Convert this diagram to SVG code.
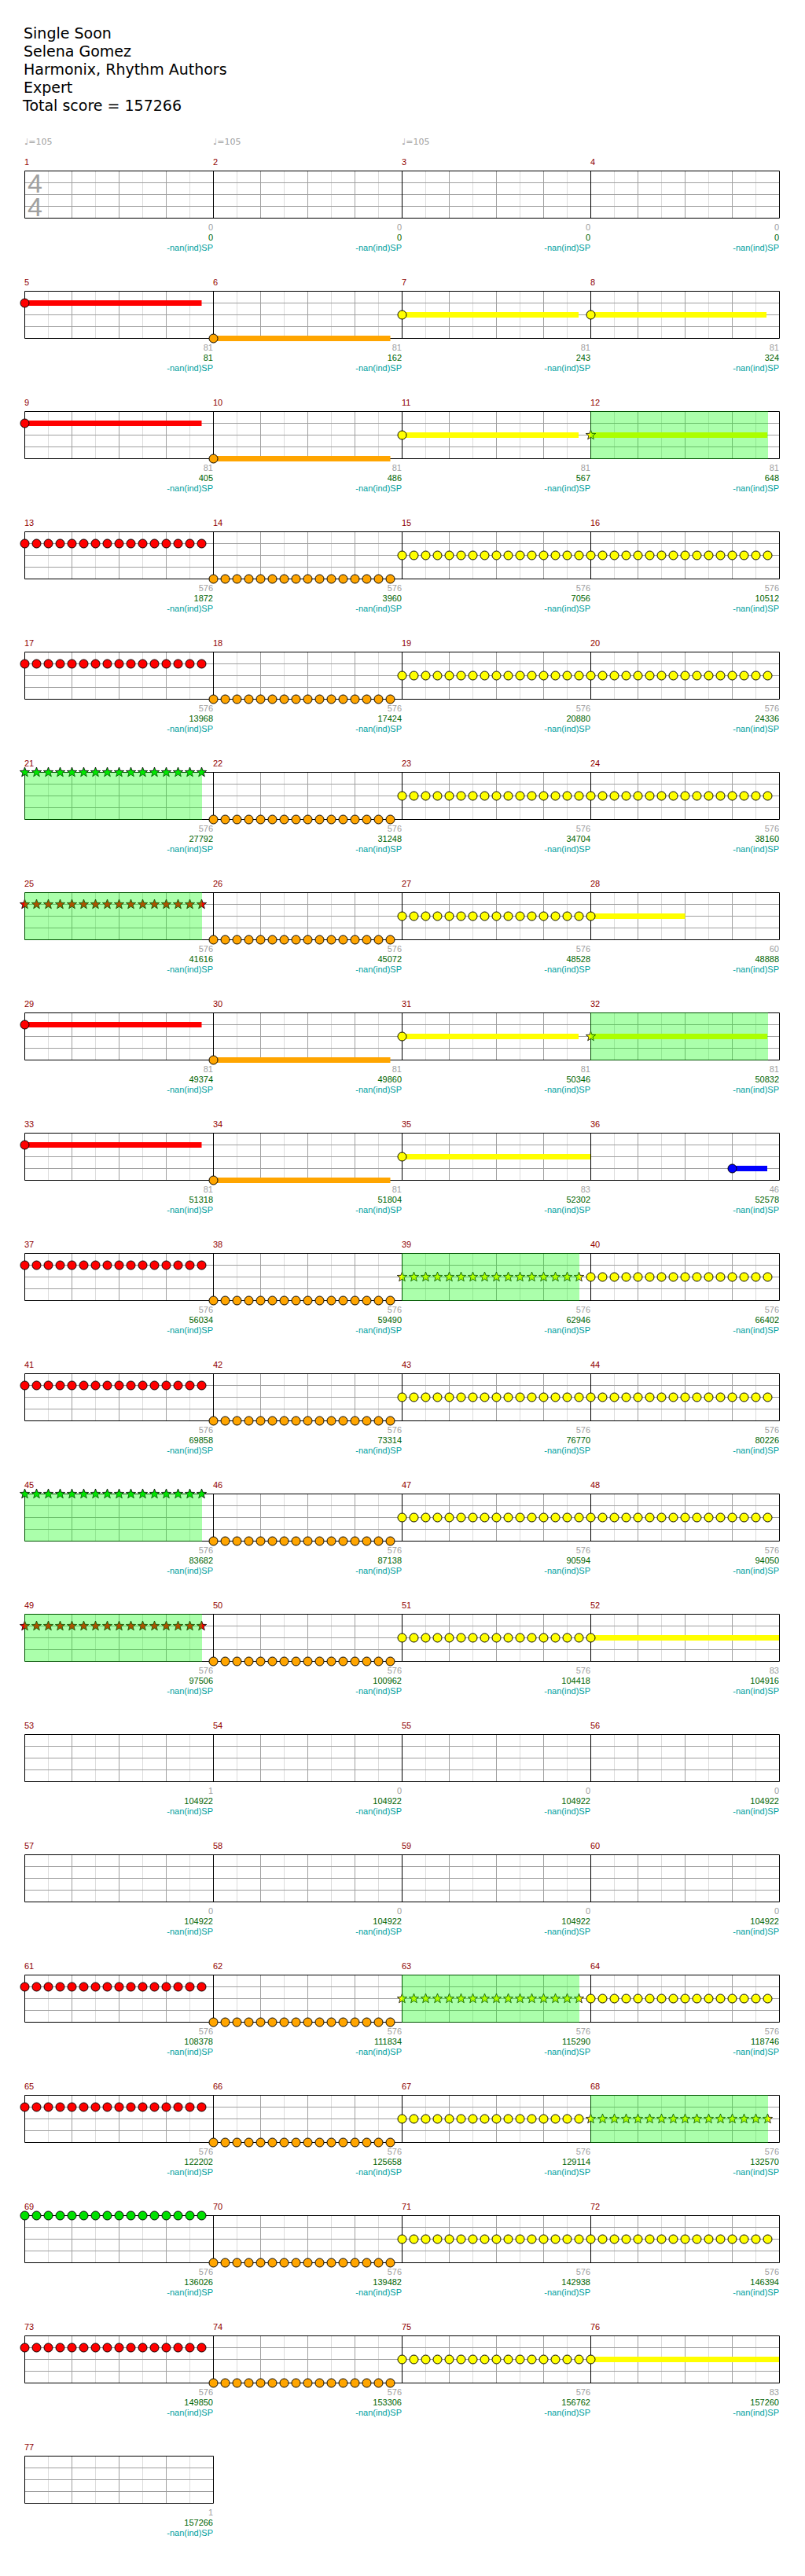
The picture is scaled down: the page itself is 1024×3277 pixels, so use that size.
<svg xmlns="http://www.w3.org/2000/svg" width="1024" height="3277" viewBox="0 0 1024 3277">
<style>
.hd{font-family:"DejaVu Sans",sans-serif;font-size:19px;fill:#000}
.tp{font-family:"DejaVu Sans",sans-serif;font-size:11px;fill:#a0a0a0}
.ts{font-family:"Liberation Sans",Arial,sans-serif;font-size:34px;fill:#a0a0a0}
.mn{font-family:"Liberation Sans",Arial,sans-serif;font-size:11px;fill:#900000}
.lb{font-family:"Liberation Sans",Arial,sans-serif;font-size:11px;text-anchor:end}
.lg{fill:#a0a0a0}.ls{fill:#006400}.lt{fill:#00a0a0}
.n{stroke:#000;stroke-width:1}
.su{stroke-width:7}
.R{fill:#ff0000}.O{fill:#ffa500}.Y{fill:#ffff00}.B{fill:#0000ff}.G{fill:#00e000}
.sR{stroke:#ff0000}.sO{stroke:#ffa500}.sY{stroke:#ffff00}.sB{stroke:#0000ff}
.spz{fill:#00ff00;fill-opacity:.33}
</style>
<defs>
<g id="g4" fill="none">
<path stroke="#dcdcdc" d="M30.5 0v60M90.5 0v60M150.5 0v60M210.5 0v60M270.5 0v60M330.5 0v60M390.5 0v60M450.5 0v60M510.5 0v60M570.5 0v60M630.5 0v60M690.5 0v60M750.5 0v60M810.5 0v60M870.5 0v60M930.5 0v60"/>
<path stroke="#a0a0a0" d="M60.5 0v60M120.5 0v60M180.5 0v60M300.5 0v60M360.5 0v60M420.5 0v60M540.5 0v60M600.5 0v60M660.5 0v60M780.5 0v60M840.5 0v60M900.5 0v60M0 15.5h960M0 30.5h960M0 45.5h960"/>
<path stroke="#000" d="M240.5 0v60M480.5 0v60M720.5 0v60M0.5 0.5h960v60h-960z"/>
</g>
<g id="g1" fill="none">
<path stroke="#dcdcdc" d="M30.5 0v60M90.5 0v60M150.5 0v60M210.5 0v60"/>
<path stroke="#a0a0a0" d="M60.5 0v60M120.5 0v60M180.5 0v60M0 15.5h240M0 30.5h240M0 45.5h240"/>
<path stroke="#000" d="M0.5 0.5h240v60h-240z"/>
</g>
<g id="c16" stroke="#000">
<circle cx="0" r="5.5"/><circle cx="15" r="5.5"/><circle cx="30" r="5.5"/><circle cx="45" r="5.5"/><circle cx="60" r="5.5"/><circle cx="75" r="5.5"/><circle cx="90" r="5.5"/><circle cx="105" r="5.5"/><circle cx="120" r="5.5"/><circle cx="135" r="5.5"/><circle cx="150" r="5.5"/><circle cx="165" r="5.5"/><circle cx="180" r="5.5"/><circle cx="195" r="5.5"/><circle cx="210" r="5.5"/><circle cx="225" r="5.5"/>
</g>
<path id="st" stroke="#000" stroke-width=".8" d="M0-6.5L1.59-2.18 6.18-2.01 2.57.83 3.82 5.26 0 2.7-3.82 5.26-2.57.83-6.18-2.01-1.59-2.18Z"/>
<g id="s16">
<use href="#st"/><use href="#st" x="15"/><use href="#st" x="30"/><use href="#st" x="45"/><use href="#st" x="60"/><use href="#st" x="75"/><use href="#st" x="90"/><use href="#st" x="105"/><use href="#st" x="120"/><use href="#st" x="135"/><use href="#st" x="150"/><use href="#st" x="165"/><use href="#st" x="180"/><use href="#st" x="195"/><use href="#st" x="210"/><use href="#st" x="225"/>
</g>
</defs>
<rect width="1024" height="3277" fill="#fff"/>
<g id="header" class="hd">
<text x="30" y="49">Single Soon</text>
<text x="30" y="72">Selena Gomez</text>
<text x="30" y="95">Harmonix, Rhythm Authors</text>
<text x="30" y="118">Expert</text>
<text x="29" y="141">Total score = 157266</text>
</g>

<g id="row1" transform="translate(0,217)">
<use href="#g4" x="31"/>
<text class="ts"><tspan x="35" y="28">4</tspan><tspan x="35" y="58">4</tspan></text>
<g class="tp"><text x="31" y="-33">♩=105</text><text x="271" y="-33">♩=105</text><text x="511" y="-33">♩=105</text></g>
<g class="mn"><text x="31" y="-7">1</text><text x="271" y="-7">2</text><text x="511" y="-7">3</text><text x="751" y="-7">4</text></g>
<g class="lb">
<text x="271" y="76" class="lg">0</text><text x="271" y="89" class="ls">0</text><text x="271" y="102" class="lt">-nan(ind)SP</text>
<text x="511" y="76" class="lg">0</text><text x="511" y="89" class="ls">0</text><text x="511" y="102" class="lt">-nan(ind)SP</text>
<text x="751" y="76" class="lg">0</text><text x="751" y="89" class="ls">0</text><text x="751" y="102" class="lt">-nan(ind)SP</text>
<text x="991" y="76" class="lg">0</text><text x="991" y="89" class="ls">0</text><text x="991" y="102" class="lt">-nan(ind)SP</text>
</g>
</g>

<g id="row2" transform="translate(0,370)">
<use href="#g4" x="31"/>
<g class="mn"><text x="31" y="-7">5</text><text x="271" y="-7">6</text><text x="511" y="-7">7</text><text x="751" y="-7">8</text></g>
<g id="m5"><line class="su sR" x1="31.5" y1="15.5" x2="256.5" y2="15.5"/><circle class="n R" cx="31.5" cy="15.5" r="5.5"/></g>
<g id="m6"><line class="su sO" x1="271.5" y1="60.5" x2="496.5" y2="60.5"/><circle class="n O" cx="271.5" cy="60.5" r="5.5"/></g>
<g id="m7"><line class="su sY" x1="511.5" y1="30.5" x2="736" y2="30.5"/><circle class="n Y" cx="511.5" cy="30.5" r="5.5"/></g>
<g id="m8"><line class="su sY" x1="751.5" y1="30.5" x2="975" y2="30.5"/><circle class="n Y" cx="751.5" cy="30.5" r="5.5"/></g>
<g class="lb">
<text x="271" y="76" class="lg">81</text><text x="271" y="89" class="ls">81</text><text x="271" y="102" class="lt">-nan(ind)SP</text>
<text x="511" y="76" class="lg">81</text><text x="511" y="89" class="ls">162</text><text x="511" y="102" class="lt">-nan(ind)SP</text>
<text x="751" y="76" class="lg">81</text><text x="751" y="89" class="ls">243</text><text x="751" y="102" class="lt">-nan(ind)SP</text>
<text x="991" y="76" class="lg">81</text><text x="991" y="89" class="ls">324</text><text x="991" y="102" class="lt">-nan(ind)SP</text>
</g>
</g>

<g id="row3" transform="translate(0,523)">
<use href="#g4" x="31"/>
<g class="mn"><text x="31" y="-7">9</text><text x="271" y="-7">10</text><text x="511" y="-7">11</text><text x="751" y="-7">12</text></g>
<g id="m9"><line class="su sR" x1="31.5" y1="15.5" x2="256.5" y2="15.5"/><circle class="n R" cx="31.5" cy="15.5" r="5.5"/></g>
<g id="m10"><line class="su sO" x1="271.5" y1="60.5" x2="496.5" y2="60.5"/><circle class="n O" cx="271.5" cy="60.5" r="5.5"/></g>
<g id="m11"><line class="su sY" x1="511.5" y1="30.5" x2="736" y2="30.5"/><circle class="n Y" cx="511.5" cy="30.5" r="5.5"/></g>
<g id="m12"><line class="su sY" x1="751.5" y1="30.5" x2="976" y2="30.5"/><use href="#st" class="Y" x="751.5" y="30.5"/><rect class="spz" x="751" y="0" width="226" height="61"/></g>
<g class="lb">
<text x="271" y="76" class="lg">81</text><text x="271" y="89" class="ls">405</text><text x="271" y="102" class="lt">-nan(ind)SP</text>
<text x="511" y="76" class="lg">81</text><text x="511" y="89" class="ls">486</text><text x="511" y="102" class="lt">-nan(ind)SP</text>
<text x="751" y="76" class="lg">81</text><text x="751" y="89" class="ls">567</text><text x="751" y="102" class="lt">-nan(ind)SP</text>
<text x="991" y="76" class="lg">81</text><text x="991" y="89" class="ls">648</text><text x="991" y="102" class="lt">-nan(ind)SP</text>
</g>
</g>

<g id="row4" transform="translate(0,676)">
<use href="#g4" x="31"/>
<g class="mn"><text x="31" y="-7">13</text><text x="271" y="-7">14</text><text x="511" y="-7">15</text><text x="751" y="-7">16</text></g>
<g id="m13"><use href="#c16" class="R" x="31.5" y="15.5"/></g>
<g id="m14"><use href="#c16" class="O" x="271.5" y="60.5"/></g>
<g id="m15"><use href="#c16" class="Y" x="511.5" y="30.5"/></g>
<g id="m16"><use href="#c16" class="Y" x="751.5" y="30.5"/></g>
<g class="lb">
<text x="271" y="76" class="lg">576</text><text x="271" y="89" class="ls">1872</text><text x="271" y="102" class="lt">-nan(ind)SP</text>
<text x="511" y="76" class="lg">576</text><text x="511" y="89" class="ls">3960</text><text x="511" y="102" class="lt">-nan(ind)SP</text>
<text x="751" y="76" class="lg">576</text><text x="751" y="89" class="ls">7056</text><text x="751" y="102" class="lt">-nan(ind)SP</text>
<text x="991" y="76" class="lg">576</text><text x="991" y="89" class="ls">10512</text><text x="991" y="102" class="lt">-nan(ind)SP</text>
</g>
</g>

<g id="row5" transform="translate(0,829)">
<use href="#g4" x="31"/>
<g class="mn"><text x="31" y="-7">17</text><text x="271" y="-7">18</text><text x="511" y="-7">19</text><text x="751" y="-7">20</text></g>
<g id="m17"><use href="#c16" class="R" x="31.5" y="15.5"/></g>
<g id="m18"><use href="#c16" class="O" x="271.5" y="60.5"/></g>
<g id="m19"><use href="#c16" class="Y" x="511.5" y="30.5"/></g>
<g id="m20"><use href="#c16" class="Y" x="751.5" y="30.5"/></g>
<g class="lb">
<text x="271" y="76" class="lg">576</text><text x="271" y="89" class="ls">13968</text><text x="271" y="102" class="lt">-nan(ind)SP</text>
<text x="511" y="76" class="lg">576</text><text x="511" y="89" class="ls">17424</text><text x="511" y="102" class="lt">-nan(ind)SP</text>
<text x="751" y="76" class="lg">576</text><text x="751" y="89" class="ls">20880</text><text x="751" y="102" class="lt">-nan(ind)SP</text>
<text x="991" y="76" class="lg">576</text><text x="991" y="89" class="ls">24336</text><text x="991" y="102" class="lt">-nan(ind)SP</text>
</g>
</g>

<g id="row6" transform="translate(0,982)">
<use href="#g4" x="31"/>
<g class="mn"><text x="31" y="-7">21</text><text x="271" y="-7">22</text><text x="511" y="-7">23</text><text x="751" y="-7">24</text></g>
<g id="m21"><use href="#s16" class="G" x="31.5" y="0.5"/><rect class="spz" x="31" y="0" width="226" height="61"/></g>
<g id="m22"><use href="#c16" class="O" x="271.5" y="60.5"/></g>
<g id="m23"><use href="#c16" class="Y" x="511.5" y="30.5"/></g>
<g id="m24"><use href="#c16" class="Y" x="751.5" y="30.5"/></g>
<g class="lb">
<text x="271" y="76" class="lg">576</text><text x="271" y="89" class="ls">27792</text><text x="271" y="102" class="lt">-nan(ind)SP</text>
<text x="511" y="76" class="lg">576</text><text x="511" y="89" class="ls">31248</text><text x="511" y="102" class="lt">-nan(ind)SP</text>
<text x="751" y="76" class="lg">576</text><text x="751" y="89" class="ls">34704</text><text x="751" y="102" class="lt">-nan(ind)SP</text>
<text x="991" y="76" class="lg">576</text><text x="991" y="89" class="ls">38160</text><text x="991" y="102" class="lt">-nan(ind)SP</text>
</g>
</g>

<g id="row7" transform="translate(0,1135)">
<use href="#g4" x="31"/>
<g class="mn"><text x="31" y="-7">25</text><text x="271" y="-7">26</text><text x="511" y="-7">27</text><text x="751" y="-7">28</text></g>
<g id="m25"><use href="#s16" class="R" x="31.5" y="15.5"/><rect class="spz" x="31" y="0" width="226" height="61"/></g>
<g id="m26"><use href="#c16" class="O" x="271.5" y="60.5"/></g>
<g id="m27"><use href="#c16" class="Y" x="511.5" y="30.5"/></g>
<g id="m28"><line class="su sY" x1="751.5" y1="30.5" x2="871.5" y2="30.5"/><circle class="n Y" cx="751.5" cy="30.5" r="5.5"/></g>
<g class="lb">
<text x="271" y="76" class="lg">576</text><text x="271" y="89" class="ls">41616</text><text x="271" y="102" class="lt">-nan(ind)SP</text>
<text x="511" y="76" class="lg">576</text><text x="511" y="89" class="ls">45072</text><text x="511" y="102" class="lt">-nan(ind)SP</text>
<text x="751" y="76" class="lg">576</text><text x="751" y="89" class="ls">48528</text><text x="751" y="102" class="lt">-nan(ind)SP</text>
<text x="991" y="76" class="lg">60</text><text x="991" y="89" class="ls">48888</text><text x="991" y="102" class="lt">-nan(ind)SP</text>
</g>
</g>

<g id="row8" transform="translate(0,1288)">
<use href="#g4" x="31"/>
<g class="mn"><text x="31" y="-7">29</text><text x="271" y="-7">30</text><text x="511" y="-7">31</text><text x="751" y="-7">32</text></g>
<g id="m29"><line class="su sR" x1="31.5" y1="15.5" x2="256.5" y2="15.5"/><circle class="n R" cx="31.5" cy="15.5" r="5.5"/></g>
<g id="m30"><line class="su sO" x1="271.5" y1="60.5" x2="496.5" y2="60.5"/><circle class="n O" cx="271.5" cy="60.5" r="5.5"/></g>
<g id="m31"><line class="su sY" x1="511.5" y1="30.5" x2="736" y2="30.5"/><circle class="n Y" cx="511.5" cy="30.5" r="5.5"/></g>
<g id="m32"><line class="su sY" x1="751.5" y1="30.5" x2="976" y2="30.5"/><use href="#st" class="Y" x="751.5" y="30.5"/><rect class="spz" x="751" y="0" width="226" height="61"/></g>
<g class="lb">
<text x="271" y="76" class="lg">81</text><text x="271" y="89" class="ls">49374</text><text x="271" y="102" class="lt">-nan(ind)SP</text>
<text x="511" y="76" class="lg">81</text><text x="511" y="89" class="ls">49860</text><text x="511" y="102" class="lt">-nan(ind)SP</text>
<text x="751" y="76" class="lg">81</text><text x="751" y="89" class="ls">50346</text><text x="751" y="102" class="lt">-nan(ind)SP</text>
<text x="991" y="76" class="lg">81</text><text x="991" y="89" class="ls">50832</text><text x="991" y="102" class="lt">-nan(ind)SP</text>
</g>
</g>

<g id="row9" transform="translate(0,1441)">
<use href="#g4" x="31"/>
<g class="mn"><text x="31" y="-7">33</text><text x="271" y="-7">34</text><text x="511" y="-7">35</text><text x="751" y="-7">36</text></g>
<g id="m33"><line class="su sR" x1="31.5" y1="15.5" x2="256.5" y2="15.5"/><circle class="n R" cx="31.5" cy="15.5" r="5.5"/></g>
<g id="m34"><line class="su sO" x1="271.5" y1="60.5" x2="496.5" y2="60.5"/><circle class="n O" cx="271.5" cy="60.5" r="5.5"/></g>
<g id="m35"><line class="su sY" x1="511.5" y1="30.5" x2="751" y2="30.5"/><circle class="n Y" cx="511.5" cy="30.5" r="5.5"/></g>
<g id="m36"><line class="su sB" x1="931.5" y1="45.5" x2="976" y2="45.5"/><circle class="n B" cx="931.5" cy="45.5" r="5.5"/></g>
<g class="lb">
<text x="271" y="76" class="lg">81</text><text x="271" y="89" class="ls">51318</text><text x="271" y="102" class="lt">-nan(ind)SP</text>
<text x="511" y="76" class="lg">81</text><text x="511" y="89" class="ls">51804</text><text x="511" y="102" class="lt">-nan(ind)SP</text>
<text x="751" y="76" class="lg">83</text><text x="751" y="89" class="ls">52302</text><text x="751" y="102" class="lt">-nan(ind)SP</text>
<text x="991" y="76" class="lg">46</text><text x="991" y="89" class="ls">52578</text><text x="991" y="102" class="lt">-nan(ind)SP</text>
</g>
</g>

<g id="row10" transform="translate(0,1594)">
<use href="#g4" x="31"/>
<g class="mn"><text x="31" y="-7">37</text><text x="271" y="-7">38</text><text x="511" y="-7">39</text><text x="751" y="-7">40</text></g>
<g id="m37"><use href="#c16" class="R" x="31.5" y="15.5"/></g>
<g id="m38"><use href="#c16" class="O" x="271.5" y="60.5"/></g>
<g id="m39"><use href="#s16" class="Y" x="511.5" y="30.5"/><rect class="spz" x="511" y="0" width="226" height="61"/></g>
<g id="m40"><use href="#c16" class="Y" x="751.5" y="30.5"/></g>
<g class="lb">
<text x="271" y="76" class="lg">576</text><text x="271" y="89" class="ls">56034</text><text x="271" y="102" class="lt">-nan(ind)SP</text>
<text x="511" y="76" class="lg">576</text><text x="511" y="89" class="ls">59490</text><text x="511" y="102" class="lt">-nan(ind)SP</text>
<text x="751" y="76" class="lg">576</text><text x="751" y="89" class="ls">62946</text><text x="751" y="102" class="lt">-nan(ind)SP</text>
<text x="991" y="76" class="lg">576</text><text x="991" y="89" class="ls">66402</text><text x="991" y="102" class="lt">-nan(ind)SP</text>
</g>
</g>

<g id="row11" transform="translate(0,1747)">
<use href="#g4" x="31"/>
<g class="mn"><text x="31" y="-7">41</text><text x="271" y="-7">42</text><text x="511" y="-7">43</text><text x="751" y="-7">44</text></g>
<g id="m41"><use href="#c16" class="R" x="31.5" y="15.5"/></g>
<g id="m42"><use href="#c16" class="O" x="271.5" y="60.5"/></g>
<g id="m43"><use href="#c16" class="Y" x="511.5" y="30.5"/></g>
<g id="m44"><use href="#c16" class="Y" x="751.5" y="30.5"/></g>
<g class="lb">
<text x="271" y="76" class="lg">576</text><text x="271" y="89" class="ls">69858</text><text x="271" y="102" class="lt">-nan(ind)SP</text>
<text x="511" y="76" class="lg">576</text><text x="511" y="89" class="ls">73314</text><text x="511" y="102" class="lt">-nan(ind)SP</text>
<text x="751" y="76" class="lg">576</text><text x="751" y="89" class="ls">76770</text><text x="751" y="102" class="lt">-nan(ind)SP</text>
<text x="991" y="76" class="lg">576</text><text x="991" y="89" class="ls">80226</text><text x="991" y="102" class="lt">-nan(ind)SP</text>
</g>
</g>

<g id="row12" transform="translate(0,1900)">
<use href="#g4" x="31"/>
<g class="mn"><text x="31" y="-7">45</text><text x="271" y="-7">46</text><text x="511" y="-7">47</text><text x="751" y="-7">48</text></g>
<g id="m45"><use href="#s16" class="G" x="31.5" y="0.5"/><rect class="spz" x="31" y="0" width="226" height="61"/></g>
<g id="m46"><use href="#c16" class="O" x="271.5" y="60.5"/></g>
<g id="m47"><use href="#c16" class="Y" x="511.5" y="30.5"/></g>
<g id="m48"><use href="#c16" class="Y" x="751.5" y="30.5"/></g>
<g class="lb">
<text x="271" y="76" class="lg">576</text><text x="271" y="89" class="ls">83682</text><text x="271" y="102" class="lt">-nan(ind)SP</text>
<text x="511" y="76" class="lg">576</text><text x="511" y="89" class="ls">87138</text><text x="511" y="102" class="lt">-nan(ind)SP</text>
<text x="751" y="76" class="lg">576</text><text x="751" y="89" class="ls">90594</text><text x="751" y="102" class="lt">-nan(ind)SP</text>
<text x="991" y="76" class="lg">576</text><text x="991" y="89" class="ls">94050</text><text x="991" y="102" class="lt">-nan(ind)SP</text>
</g>
</g>

<g id="row13" transform="translate(0,2053)">
<use href="#g4" x="31"/>
<g class="mn"><text x="31" y="-7">49</text><text x="271" y="-7">50</text><text x="511" y="-7">51</text><text x="751" y="-7">52</text></g>
<g id="m49"><use href="#s16" class="R" x="31.5" y="15.5"/><rect class="spz" x="31" y="0" width="226" height="61"/></g>
<g id="m50"><use href="#c16" class="O" x="271.5" y="60.5"/></g>
<g id="m51"><use href="#c16" class="Y" x="511.5" y="30.5"/></g>
<g id="m52"><line class="su sY" x1="751.5" y1="30.5" x2="991" y2="30.5"/><circle class="n Y" cx="751.5" cy="30.5" r="5.5"/></g>
<g class="lb">
<text x="271" y="76" class="lg">576</text><text x="271" y="89" class="ls">97506</text><text x="271" y="102" class="lt">-nan(ind)SP</text>
<text x="511" y="76" class="lg">576</text><text x="511" y="89" class="ls">100962</text><text x="511" y="102" class="lt">-nan(ind)SP</text>
<text x="751" y="76" class="lg">576</text><text x="751" y="89" class="ls">104418</text><text x="751" y="102" class="lt">-nan(ind)SP</text>
<text x="991" y="76" class="lg">83</text><text x="991" y="89" class="ls">104916</text><text x="991" y="102" class="lt">-nan(ind)SP</text>
</g>
</g>

<g id="row14" transform="translate(0,2206)">
<use href="#g4" x="31"/>
<g class="mn"><text x="31" y="-7">53</text><text x="271" y="-7">54</text><text x="511" y="-7">55</text><text x="751" y="-7">56</text></g>
<g class="lb">
<text x="271" y="76" class="lg">1</text><text x="271" y="89" class="ls">104922</text><text x="271" y="102" class="lt">-nan(ind)SP</text>
<text x="511" y="76" class="lg">0</text><text x="511" y="89" class="ls">104922</text><text x="511" y="102" class="lt">-nan(ind)SP</text>
<text x="751" y="76" class="lg">0</text><text x="751" y="89" class="ls">104922</text><text x="751" y="102" class="lt">-nan(ind)SP</text>
<text x="991" y="76" class="lg">0</text><text x="991" y="89" class="ls">104922</text><text x="991" y="102" class="lt">-nan(ind)SP</text>
</g>
</g>

<g id="row15" transform="translate(0,2359)">
<use href="#g4" x="31"/>
<g class="mn"><text x="31" y="-7">57</text><text x="271" y="-7">58</text><text x="511" y="-7">59</text><text x="751" y="-7">60</text></g>
<g class="lb">
<text x="271" y="76" class="lg">0</text><text x="271" y="89" class="ls">104922</text><text x="271" y="102" class="lt">-nan(ind)SP</text>
<text x="511" y="76" class="lg">0</text><text x="511" y="89" class="ls">104922</text><text x="511" y="102" class="lt">-nan(ind)SP</text>
<text x="751" y="76" class="lg">0</text><text x="751" y="89" class="ls">104922</text><text x="751" y="102" class="lt">-nan(ind)SP</text>
<text x="991" y="76" class="lg">0</text><text x="991" y="89" class="ls">104922</text><text x="991" y="102" class="lt">-nan(ind)SP</text>
</g>
</g>

<g id="row16" transform="translate(0,2512)">
<use href="#g4" x="31"/>
<g class="mn"><text x="31" y="-7">61</text><text x="271" y="-7">62</text><text x="511" y="-7">63</text><text x="751" y="-7">64</text></g>
<g id="m61"><use href="#c16" class="R" x="31.5" y="15.5"/></g>
<g id="m62"><use href="#c16" class="O" x="271.5" y="60.5"/></g>
<g id="m63"><use href="#s16" class="Y" x="511.5" y="30.5"/><rect class="spz" x="511" y="0" width="226" height="61"/></g>
<g id="m64"><use href="#c16" class="Y" x="751.5" y="30.5"/></g>
<g class="lb">
<text x="271" y="76" class="lg">576</text><text x="271" y="89" class="ls">108378</text><text x="271" y="102" class="lt">-nan(ind)SP</text>
<text x="511" y="76" class="lg">576</text><text x="511" y="89" class="ls">111834</text><text x="511" y="102" class="lt">-nan(ind)SP</text>
<text x="751" y="76" class="lg">576</text><text x="751" y="89" class="ls">115290</text><text x="751" y="102" class="lt">-nan(ind)SP</text>
<text x="991" y="76" class="lg">576</text><text x="991" y="89" class="ls">118746</text><text x="991" y="102" class="lt">-nan(ind)SP</text>
</g>
</g>

<g id="row17" transform="translate(0,2665)">
<use href="#g4" x="31"/>
<g class="mn"><text x="31" y="-7">65</text><text x="271" y="-7">66</text><text x="511" y="-7">67</text><text x="751" y="-7">68</text></g>
<g id="m65"><use href="#c16" class="R" x="31.5" y="15.5"/></g>
<g id="m66"><use href="#c16" class="O" x="271.5" y="60.5"/></g>
<g id="m67"><use href="#c16" class="Y" x="511.5" y="30.5"/></g>
<g id="m68"><use href="#s16" class="Y" x="751.5" y="30.5"/><rect class="spz" x="751" y="0" width="226" height="61"/></g>
<g class="lb">
<text x="271" y="76" class="lg">576</text><text x="271" y="89" class="ls">122202</text><text x="271" y="102" class="lt">-nan(ind)SP</text>
<text x="511" y="76" class="lg">576</text><text x="511" y="89" class="ls">125658</text><text x="511" y="102" class="lt">-nan(ind)SP</text>
<text x="751" y="76" class="lg">576</text><text x="751" y="89" class="ls">129114</text><text x="751" y="102" class="lt">-nan(ind)SP</text>
<text x="991" y="76" class="lg">576</text><text x="991" y="89" class="ls">132570</text><text x="991" y="102" class="lt">-nan(ind)SP</text>
</g>
</g>

<g id="row18" transform="translate(0,2818)">
<use href="#g4" x="31"/>
<g class="mn"><text x="31" y="-7">69</text><text x="271" y="-7">70</text><text x="511" y="-7">71</text><text x="751" y="-7">72</text></g>
<g id="m69"><use href="#c16" class="G" x="31.5" y="0.5"/></g>
<g id="m70"><use href="#c16" class="O" x="271.5" y="60.5"/></g>
<g id="m71"><use href="#c16" class="Y" x="511.5" y="30.5"/></g>
<g id="m72"><use href="#c16" class="Y" x="751.5" y="30.5"/></g>
<g class="lb">
<text x="271" y="76" class="lg">576</text><text x="271" y="89" class="ls">136026</text><text x="271" y="102" class="lt">-nan(ind)SP</text>
<text x="511" y="76" class="lg">576</text><text x="511" y="89" class="ls">139482</text><text x="511" y="102" class="lt">-nan(ind)SP</text>
<text x="751" y="76" class="lg">576</text><text x="751" y="89" class="ls">142938</text><text x="751" y="102" class="lt">-nan(ind)SP</text>
<text x="991" y="76" class="lg">576</text><text x="991" y="89" class="ls">146394</text><text x="991" y="102" class="lt">-nan(ind)SP</text>
</g>
</g>

<g id="row19" transform="translate(0,2971)">
<use href="#g4" x="31"/>
<g class="mn"><text x="31" y="-7">73</text><text x="271" y="-7">74</text><text x="511" y="-7">75</text><text x="751" y="-7">76</text></g>
<g id="m73"><use href="#c16" class="R" x="31.5" y="15.5"/></g>
<g id="m74"><use href="#c16" class="O" x="271.5" y="60.5"/></g>
<g id="m75"><use href="#c16" class="Y" x="511.5" y="30.5"/></g>
<g id="m76"><line class="su sY" x1="751.5" y1="30.5" x2="991" y2="30.5"/><circle class="n Y" cx="751.5" cy="30.5" r="5.5"/></g>
<g class="lb">
<text x="271" y="76" class="lg">576</text><text x="271" y="89" class="ls">149850</text><text x="271" y="102" class="lt">-nan(ind)SP</text>
<text x="511" y="76" class="lg">576</text><text x="511" y="89" class="ls">153306</text><text x="511" y="102" class="lt">-nan(ind)SP</text>
<text x="751" y="76" class="lg">576</text><text x="751" y="89" class="ls">156762</text><text x="751" y="102" class="lt">-nan(ind)SP</text>
<text x="991" y="76" class="lg">83</text><text x="991" y="89" class="ls">157260</text><text x="991" y="102" class="lt">-nan(ind)SP</text>
</g>
</g>

<g id="row20" transform="translate(0,3124)">
<use href="#g1" x="31"/>
<g class="mn"><text x="31" y="-7">77</text></g>
<g class="lb">
<text x="271" y="76" class="lg">1</text><text x="271" y="89" class="ls">157266</text><text x="271" y="102" class="lt">-nan(ind)SP</text>
</g>
</g>
</svg>
